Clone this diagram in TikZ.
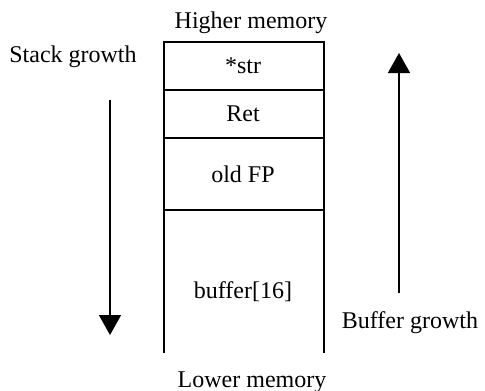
\documentclass[tikz,border=0pt]{standalone}
\usepackage{fontspec}
\setmainfont{Liberation Serif}
\usetikzlibrary{arrows.meta}
\begin{document}
\begin{tikzpicture}[x=1pt,y=-1pt,
  wall/.style={line width=2pt},
  growth/.style={line width=1.5pt,-{Triangle[length=20pt,width=22pt]}},
  lbl/.style={font=\fontsize{24}{28}\selectfont,inner sep=0pt}]
\useasboundingbox (0,0) rectangle (485,391);
% stack frame, open at the bottom
\draw[wall] (164,353) -- (164,42) -- (324,42) -- (324,353);
\draw[wall] (164,90) -- (324,90);
\draw[wall] (164,138) -- (324,138);
\draw[wall] (164,210) -- (324,210);
% cell contents
\node[lbl] (str) at (243,66) {*str};
\node[lbl] (ret) at (243,114) {Ret};
\node[lbl] (fp) at (243,174) {old FP};
\node[lbl] (buf) at (243,292) {buffer[16]};
\node[lbl,anchor=base] (high) at (251,28) {Higher memory};
\node[lbl,anchor=base] (low) at (252,387) {Lower memory};
% growth directions
\node[lbl,anchor=base] (sg) at (73,62) {Stack growth};
\coordinate (sgtop) at (110,100);
\coordinate (sgtip) at (110,335);
\draw[growth] (sgtop) -- (sgtip);
\node[lbl,anchor=base] (bg) at (410,328) {Buffer growth};
\coordinate (bgbot) at (399,293);
\coordinate (bgtip) at (399,53);
\draw[growth] (bgbot) -- (bgtip);
\end{tikzpicture}
\end{document}
